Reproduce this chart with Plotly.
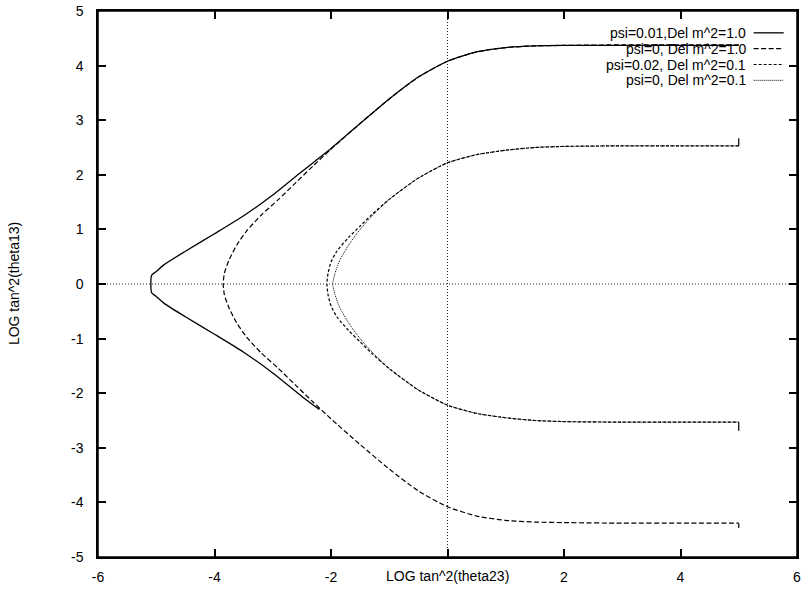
import plotly.graph_objects as go

# Curve 1: psi=0.01, Del m^2=1.0 (solid). Upper branch from the right end to the tip,
# lower branch from the tip outwards.
psi001_dm1_upper_x = [5.0, 4.0, 3.0, 2.0, 1.5, 1.0, 0.5, 0.0, -0.5, -1.0, -1.5, -2.0, -2.5,
                      -3.0, -3.5, -4.0, -4.5, -4.87, -5.01, -5.08]
psi001_dm1_upper_y = [4.37, 4.37, 4.37, 4.37, 4.36, 4.33, 4.25, 4.08, 3.79, 3.39, 2.94, 2.48, 2.06,
                      1.63, 1.25, 0.92, 0.60, 0.35, 0.22, 0.16]
psi001_dm1_lower_x = [-5.08, -5.01, -4.87, -4.5, -4.0, -3.5, -3.0, -2.5, -2.2]
psi001_dm1_lower_y = [-0.16, -0.22, -0.35, -0.60, -0.92, -1.25, -1.63, -2.06, -2.30]

# Curve 2: psi=0, Del m^2=1.0 (dashed), symmetric about zero
psi0_dm1_x = [5.0, 4.0, 3.0, 2.0, 1.5, 1.0, 0.5, 0.0, -0.5, -1.0, -1.5, -2.0, -2.3, -2.6,
              -2.9, -3.2, -3.45, -3.62, -3.75, -3.83, -3.85]
psi0_dm1_y = [4.38, 4.38, 4.38, 4.37, 4.36, 4.33, 4.25, 4.08, 3.79, 3.39, 2.94, 2.47, 2.17, 1.86,
              1.55, 1.26, 0.97, 0.71, 0.44, 0.20, 0.00]
psi0_dm1_end_y = -4.47

# Curve 3: psi=0.02, Del m^2=0.1 (short dashes)
psi002_dm01_x = [5.0, 4.0, 3.0, 2.0, 1.5, 1.0, 0.5, 0.0, -0.5, -1.0, -1.3, -1.5, -1.7,
                 -1.9, -2.0, -2.05, -2.07]
psi002_dm01_y = [2.53, 2.53, 2.53, 2.52, 2.50, 2.45, 2.37, 2.22, 1.94, 1.55, 1.27, 1.06, 0.85,
                 0.60, 0.40, 0.20, 0.00]
psi002_dm01_end_y = [2.67, -2.69]

# Curve 4: psi=0, Del m^2=0.1 (dotted)
psi0_dm01_x = [5.0, 4.0, 3.0, 2.0, 1.5, 1.0, 0.5, 0.0, -0.5, -1.0, -1.3, -1.5, -1.7,
               -1.85, -1.93, -1.97]
psi0_dm01_y = [2.53, 2.53, 2.53, 2.52, 2.50, 2.45, 2.37, 2.22, 1.94, 1.55, 1.24, 1.00, 0.71,
               0.43, 0.20, 0.00]

legend_labels = ["psi=0.01,Del m^2=1.0", "psi=0, Del m^2=1.0",
                 "psi=0.02, Del m^2=0.1", "psi=0, Del m^2=0.1"]
x_ticks = [-6, -4, -2, 0, 2, 4, 6]
y_ticks = [-5, -4, -3, -2, -1, 0, 1, 2, 3, 4, 5]
x_title = "LOG tan^2(theta23)"
y_title = "LOG tan^2(theta13)"

FONT = "Liberation Sans, Arial, Helvetica, sans-serif"
dashes = ["solid", "5px,2.5px", "3px,2px", "1px,1px"]
widths = [1.3, 1.2, 1.2, 1.0]


def mirror_branch(xs, ys):
    """Upper branch (right end -> tip) followed by its mirror image (tip -> right end)."""
    lx = list(reversed(xs))[1:]
    ly = [-v for v in reversed(ys)][1:]
    return list(xs) + lx, list(ys) + ly


def curve(x, y, i):
    return go.Scatter(x=x, y=y, mode="lines",
                      line=dict(color="black", width=widths[i], dash=dashes[i],
                                shape="spline", smoothing=0.6))


def end_tick(x, y, i):
    return go.Scatter(x=x, y=y, mode="lines",
                      line=dict(color="black", width=widths[i], dash="solid"))


fig = go.Figure()

# solid curve: upper branch, vertical tip and lower branch in one path
c1x = psi001_dm1_upper_x + psi001_dm1_lower_x
c1y = psi001_dm1_upper_y + psi001_dm1_lower_y
fig.add_trace(curve(c1x, c1y, 0))

c2x, c2y = mirror_branch(psi0_dm1_x, psi0_dm1_y)
fig.add_trace(curve(c2x, c2y, 1))
fig.add_trace(end_tick([c2x[-1], c2x[-1]], [c2y[-1], psi0_dm1_end_y], 1))

c3x, c3y = mirror_branch(psi002_dm01_x, psi002_dm01_y)
fig.add_trace(curve(c3x, c3y, 2))
fig.add_trace(end_tick([c3x[0], c3x[0]], [c3y[0], psi002_dm01_end_y[0]], 2))
fig.add_trace(end_tick([c3x[-1], c3x[-1]], [c3y[-1], psi002_dm01_end_y[1]], 2))

c4x, c4y = mirror_branch(psi0_dm01_x, psi0_dm01_y)
fig.add_trace(curve(c4x, c4y, 3))

# dotted zero axes
zero_line = dict(color="#222", width=1, dash="1px,2px")
fig.add_shape(type="line", xref="x", yref="y", x0=-6, x1=6, y0=0, y1=0, line=zero_line, layer="below")
fig.add_shape(type="line", xref="x", yref="y", x0=0, x1=0, y0=-5, y1=5, line=zero_line, layer="below")

# frame around the plotting area
fig.add_shape(type="rect", xref="paper", yref="paper", x0=0, x1=1, y0=0, y1=1,
              line=dict(color="black", width=1.5), layer="above")

# key in the top-right corner: right-aligned text with the line sample after it
row_y = [0.96, 0.931, 0.902, 0.873]
for lbl, yy, dsh, w in zip(legend_labels, row_y, dashes, widths):
    fig.add_annotation(xref="paper", yref="paper", x=0.93, y=yy, text=lbl, showarrow=False,
                       xanchor="right", yanchor="middle", font=dict(family=FONT, size=14, color="black"))
    fig.add_shape(type="line", xref="paper", yref="paper", x0=0.938, x1=0.981, y0=yy, y1=yy,
                  line=dict(color="black", width=w, dash=dsh))

# axis titles
fig.add_annotation(xref="x", yref="paper", x=0, y=-0.034, text=x_title, showarrow=False,
                   xanchor="center", yanchor="middle", font=dict(family=FONT, size=14, color="black"))
fig.add_annotation(xref="paper", yref="paper", x=-0.12, y=0.5, text=y_title, showarrow=False,
                   textangle=-90, xanchor="center", yanchor="middle",
                   font=dict(family=FONT, size=14, color="black"))

axis_common = dict(showline=True, linecolor="black", linewidth=1.5, mirror="ticks",
                   ticks="inside", ticklen=8, tickwidth=1.5, tickcolor="black",
                   showgrid=False, zeroline=False, ticklabeloverflow="allow",
                   tickfont=dict(family=FONT, size=14, color="black"))

fig.update_xaxes(range=[-6, 6], tickvals=x_ticks,
                 ticktext=[("" if v == 0 else str(v)) for v in x_ticks],
                 ticklabelstandoff=6, **axis_common)
fig.update_yaxes(range=[-5, 5], tickvals=y_ticks, ticktext=[str(v) for v in y_ticks],
                 ticklabelstandoff=10, **axis_common)

fig.update_layout(width=804, height=591, showlegend=False,
                  margin=dict(l=98, r=3, t=8, b=34),
                  plot_bgcolor="white", paper_bgcolor="white",
                  font=dict(family=FONT, size=14, color="black"))

fig.write_html("out.html")
